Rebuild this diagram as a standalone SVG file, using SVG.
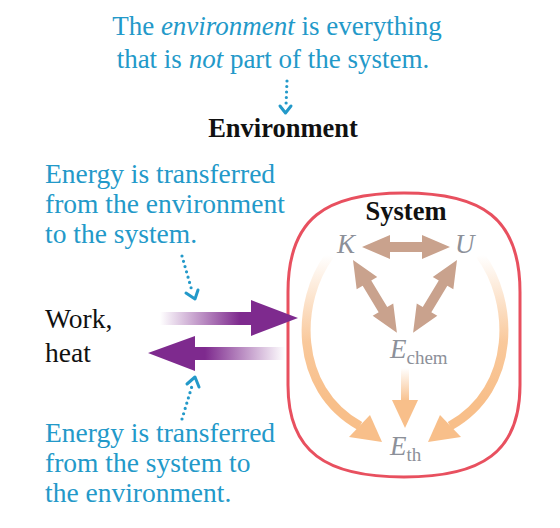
<svg xmlns="http://www.w3.org/2000/svg" width="560" height="528" viewBox="0 0 560 528">
<style>
text{font-family:"Liberation Serif","Times New Roman",serif}
.blue{fill:#2399C9;font-size:27.5px}
.cap{fill:#2399C9;font-size:27px}
.blk{fill:#111;font-size:27.5px}
.bold{fill:#111;font-size:26.5px;font-weight:bold}
.sym{fill:#8C9099;font-size:27px;font-style:italic}
.sub{fill:#8C9099;font-size:19px;font-style:normal}
.dot{fill:none;stroke:#2399C9;stroke-width:3.2;stroke-linecap:round;stroke-dasharray:0 5.5}
.chev{fill:none;stroke:#2399C9;stroke-width:3;stroke-linecap:round;stroke-linejoin:round}
.tan{fill:#C9A28D}
.orng{fill:#F8BF8A}
</style>
<defs>
<linearGradient id="pR" gradientUnits="userSpaceOnUse" x1="160" y1="0" x2="240" y2="0">
<stop offset="0" stop-color="#7E2A8E" stop-opacity="0"/>
<stop offset="1" stop-color="#7E2A8E"/>
</linearGradient>
<linearGradient id="pL" gradientUnits="userSpaceOnUse" x1="285" y1="0" x2="205" y2="0">
<stop offset="0" stop-color="#7E2A8E" stop-opacity="0"/>
<stop offset="1" stop-color="#7E2A8E"/>
</linearGradient>
<linearGradient id="oA" gradientUnits="userSpaceOnUse" x1="0" y1="255" x2="0" y2="400">
<stop offset="0" stop-color="#F8BF8A" stop-opacity="0"/>
<stop offset="0.6" stop-color="#F8BF8A" stop-opacity="0.85"/>
<stop offset="1" stop-color="#F8BF8A"/>
</linearGradient>
<linearGradient id="oC" gradientUnits="userSpaceOnUse" x1="0" y1="368" x2="0" y2="402">
<stop offset="0" stop-color="#F8BF8A" stop-opacity="0"/>
<stop offset="1" stop-color="#F8BF8A"/>
</linearGradient>
</defs>

<g id="caption-environment">
<text class="cap" x="277" y="35" text-anchor="middle">The <tspan font-style="italic">environment</tspan> is everything</text>
<text class="cap" x="273" y="68" text-anchor="middle">that is <tspan font-style="italic">not</tspan> part of the system.</text>
</g>

<g id="environment-label">
<text class="bold" x="283" y="137" text-anchor="middle">Environment</text>
</g>

<g id="caption-in">
<text class="blue" x="45" y="183">Energy is transferred</text>
<text class="blue" x="45" y="213">from the environment</text>
<text class="blue" x="45" y="243">to the system.</text>
</g>

<g id="caption-out">
<text class="blue" x="45" y="442">Energy is transferred</text>
<text class="blue" x="45" y="472">from the system to</text>
<text class="blue" x="45" y="502">the environment.</text>
</g>

<g id="work-heat">
<text class="blk" x="45" y="328">Work,</text>
<text class="blk" x="45" y="362">heat</text>
</g>

<g id="system">
<path d="M404 193 C482 193 520 218 520 292 L520 385 C520 452 482 477 404 477 C326 477 288 452 288 385 L288 292 C288 218 326 193 404 193 Z" fill="none" stroke="#E8505F" stroke-width="3"/>
<text class="bold" x="406" y="220" text-anchor="middle">System</text>
</g>

<g id="node-K"><text class="sym" x="337" y="253">K</text></g>
<g id="node-U"><text class="sym" x="455" y="253">U</text></g>
<g id="node-Echem"><text class="sym" x="390" y="358">E<tspan class="sub" dy="6">chem</tspan></text></g>
<g id="node-Eth"><text class="sym" x="390" y="455">E<tspan class="sub" dy="6">th</tspan></text></g>

<g id="connectors">
<path class="dot" d="M287 81 L286 106"/>
<path class="chev" d="M280 106 L285.5 113 L291 106"/>
<path class="dot" d="M182 256 L192 291"/>
<path class="chev" d="M186 293 L195 299 L198 290"/>
<path class="dot" d="M182 419 L192 386"/>
<path class="chev" d="M187 384 L195 377 L199 387"/>

<path d="M160 312 L251 312 L251 300 L298 318 L251 336 L251 325 L160 325 Z" fill="url(#pR)"/>
<path d="M285 347 L195 347 L195 336 L148 353 L195 371 L195 360 L285 360 Z" fill="url(#pL)"/>

<path class="tan" transform="translate(362 247)" d="M0 0 L28 -12 L28 -5 L60 -5 L60 -12 L88 0 L60 12 L60 5 L28 5 L28 12 Z"/>
<path class="tan" transform="translate(353 260) rotate(58.9)" d="M0 0 L27 -12 L27 -5 L58 -5 L58 -12 L85 0 L58 12 L58 5 L27 5 L27 12 Z"/>
<path class="tan" transform="translate(457 260) rotate(121.1)" d="M0 0 L27 -12 L27 -5 L58 -5 L58 -12 L85 0 L58 12 L58 5 L27 5 L27 12 Z"/>

<path d="M330 255 C296 300 292 388 360 426" fill="none" stroke="url(#oA)" stroke-width="9"/>
<path class="orng" d="M349 437 L382 442 L370 415 Z"/>
<path d="M480 255 C514 300 518 388 450 426" fill="none" stroke="url(#oA)" stroke-width="9"/>
<path class="orng" d="M461 437 L428 442 L440 415 Z"/>
<path d="M401 368 L409 368 L409 401 L401 401 Z" fill="url(#oC)"/>
<path class="orng" d="M392 400 L418 400 L405 428 Z"/>
</g>
</svg>
